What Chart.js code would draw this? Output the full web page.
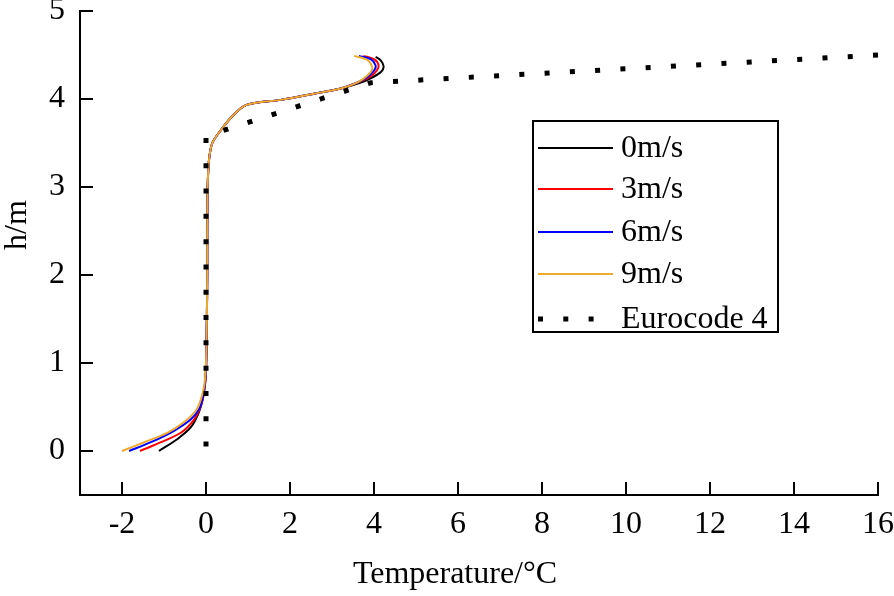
<!DOCTYPE html>
<html>
<head>
<meta charset="utf-8">
<script src="https://cdn.jsdelivr.net/npm/chart.js@4.4.0/dist/chart.umd.min.js"></script>
<style>
html,body{margin:0;padding:0;background:#fff;}
canvas{display:block;}
</style>
</head>
<body>
<canvas id="c" width="894" height="596"></canvas>
<script>
// ---- data ----
const seriesLabels = ['0m/s', '3m/s', '6m/s', '9m/s', 'Eurocode 4'];
const xTicks = [-2, 0, 2, 4, 6, 8, 10, 12, 14, 16];
const yTicks = [0, 1, 2, 3, 4, 5];

const t0 = [-1.12,-0.67,-0.36,-0.17,-0.08,-0.02,0.0,0.02,0.03,0.03,0.04,0.07,0.15,0.36,0.6,0.95,1.78,2.57,3.21,3.65,3.98,4.17,4.23,4.16,4.04];
const h0 = [0,0.14,0.27,0.44,0.59,0.78,1.0,1.5,2.0,2.5,3.0,3.3,3.5,3.65,3.79,3.93,3.99,4.06,4.12,4.18,4.25,4.31,4.37,4.44,4.48];

const t3 = [-1.57,-1.07,-0.59,-0.28,-0.13,-0.05,0.0,0.02,0.03,0.03,0.04,0.07,0.15,0.36,0.6,0.95,1.78,2.57,3.21,3.63,3.9,4.06,4.11,4.01,3.75];
const h3 = [0,0.1,0.21,0.36,0.5,0.65,0.9,1.5,2.0,2.5,3.0,3.3,3.5,3.65,3.79,3.93,3.99,4.06,4.12,4.19,4.25,4.32,4.38,4.45,4.49];

const t6 = [-1.83,-1.31,-0.76,-0.36,-0.16,-0.07,0.0,0.02,0.03,0.03,0.04,0.07,0.15,0.36,0.6,0.95,1.78,2.57,3.21,3.62,3.87,4.01,4.04,3.93,3.64];
const h6 = [0,0.1,0.23,0.36,0.48,0.62,0.9,1.5,2.0,2.5,3.0,3.3,3.5,3.65,3.79,3.93,3.99,4.06,4.12,4.19,4.26,4.33,4.38,4.45,4.49];

const t9 = [-2.0,-1.47,-0.91,-0.52,-0.24,-0.12,-0.04,0.0,0.02,0.03,0.03,0.04,0.07,0.15,0.36,0.6,0.95,1.78,2.57,3.21,3.61,3.85,3.96,3.85,3.53];
const h9 = [0,0.1,0.21,0.33,0.46,0.59,0.75,1.0,1.5,2.0,2.5,3.0,3.3,3.5,3.65,3.79,3.93,3.99,4.06,4.12,4.19,4.27,4.35,4.44,4.49];

const tE = [16, 3.93, 0, 0];
const hE = [4.5, 4.185, 3.58, 0];

// ---- helpers ----
const zip = (xs, ys) => xs.map((v, i) => ({x: v, y: ys[i]}));
const FONT = '"Liberation Serif", "Times New Roman", serif';

const lineDs = (label, t, h, color, order) => ({
  label, data: zip(t, h), borderColor: color, backgroundColor: color,
  borderWidth: 2, pointRadius: 0, tension: 0.3, showLine: true, fill: false, order
});

const datasets = [
  lineDs(seriesLabels[0], t0, h0, '#000000', 4),
  lineDs(seriesLabels[1], t3, h3, '#ff0000', 3),
  lineDs(seriesLabels[2], t6, h6, '#0000ff', 2),
  lineDs(seriesLabels[3], t9, h9, '#EEAA2C', 1),
  {
    label: seriesLabels[4], data: zip(tE, hE), borderColor: '#000', backgroundColor: '#000',
    borderWidth: 5, borderDash: [5, 20.3], borderCapStyle: 'butt', pointRadius: 0,
    tension: 0, showLine: true, fill: false, order: 0, clip: false
  }
];

const decor = {
  id: 'decor',
  afterDraw(chart) {
    const {ctx, chartArea: a, scales: {x, y}} = chart;
    ctx.save();
    // inward tick marks
    ctx.strokeStyle = '#000';
    ctx.lineWidth = 2;
    ctx.beginPath();
    xTicks.forEach(v => {
      const px = Math.round(x.getPixelForValue(v));
      ctx.moveTo(px, a.bottom); ctx.lineTo(px, a.bottom - 13);
    });
    yTicks.forEach(v => {
      const py = Math.round(y.getPixelForValue(v));
      ctx.moveTo(a.left, py); ctx.lineTo(a.left + 13, py);
    });
    ctx.stroke();

    // axis titles
    ctx.fillStyle = '#000';
    ctx.font = '32px ' + FONT;
    ctx.textAlign = 'center';
    ctx.textBaseline = 'alphabetic';
    ctx.fillText('Temperature/°C', 455, 583);
    ctx.save();
    ctx.translate(26, 225);
    ctx.rotate(-Math.PI / 2);
    ctx.fillText('h/m', 0, 0);
    ctx.restore();

    // legend box
    const L = 533, T = 121, R = 778, B = 332;
    ctx.lineWidth = 2;
    ctx.strokeStyle = '#000';
    ctx.strokeRect(L, T, R - L, B - T);
    const rows = [148, 189, 232, 274, 319];
    ctx.textAlign = 'left';
    ctx.textBaseline = 'middle';
    ctx.font = '32px ' + FONT;
    chart.data.datasets.forEach((ds, i) => {
      const yy = rows[i];
      ctx.save();
      ctx.strokeStyle = ds.borderColor;
      ctx.lineWidth = ds.borderWidth;
      ctx.lineCap = 'butt';
      ctx.setLineDash(ds.borderDash || []);
      ctx.beginPath();
      ctx.moveTo(538, yy); ctx.lineTo(613, yy);
      ctx.stroke();
      ctx.restore();
      ctx.fillText(ds.label, 621, yy + 1);
    });
    ctx.restore();
  }
};

new Chart(document.getElementById('c'), {
  type: 'scatter',
  data: {datasets},
  options: {
    responsive: false,
    animation: false,
    devicePixelRatio: 1,
    layout: {padding: {left: 0, right: 16, top: 11, bottom: 0}},
    plugins: {legend: {display: false}, tooltip: {enabled: false}},
    scales: {
      x: {
        type: 'linear', min: -3, max: 16,
        afterBuildTicks: s => { s.ticks = xTicks.map(v => ({value: v})); },
        afterFit: s => { s.height = 101; s.paddingLeft = 0; s.paddingRight = 0; },
        grid: {display: false, drawTicks: false},
        border: {display: true, color: '#000', width: 2},
        ticks: {color: '#000', font: {family: FONT, size: 32}, padding: 10, maxRotation: 0, autoSkip: false}
      },
      y: {
        type: 'linear', min: -0.5, max: 5,
        afterBuildTicks: s => { s.ticks = yTicks.map(v => ({value: v})); },
        afterFit: s => { s.width = 80; s.paddingTop = 0; s.paddingBottom = 0; },
        grid: {display: false, drawTicks: false},
        border: {display: true, color: '#000', width: 2},
        ticks: {color: '#000', font: {family: FONT, size: 32}, padding: 15, autoSkip: false}
      }
    }
  },
  plugins: [decor]
});
</script>
</body>
</html>
